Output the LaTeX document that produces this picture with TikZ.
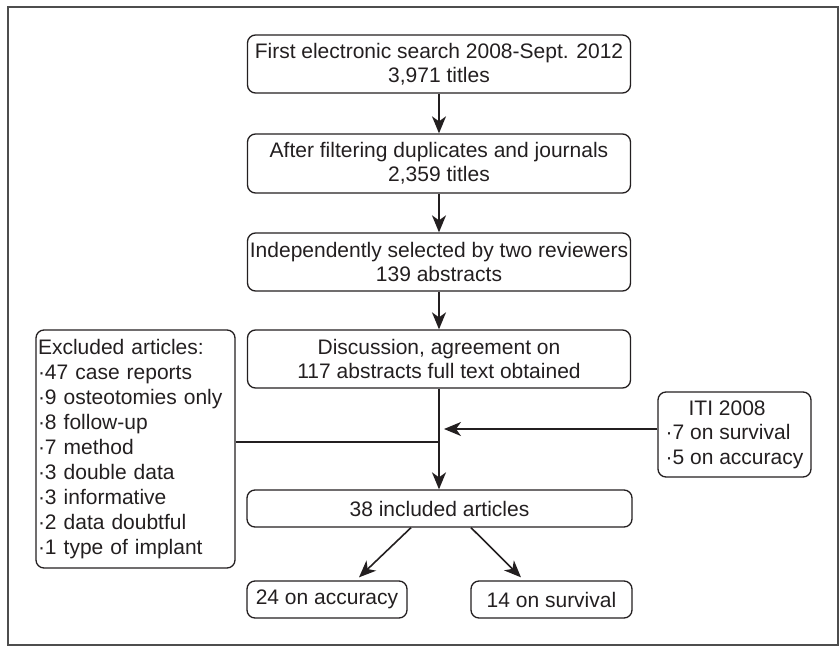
\documentclass[tikz,border=0pt]{standalone}
\usepackage{fontspec}
\setmainfont{Liberation Sans}
\usetikzlibrary{arrows.meta,calc}
\definecolor{ink}{HTML}{231F20}
\definecolor{framec}{HTML}{4D4D4D}
\newcommand\diafont{\fontsize{21}{24}\selectfont}
\newcommand\listfont{\fontsize{21}{25}\selectfont}
\begin{document}
\begin{tikzpicture}[x=1pt,y=-1pt,
  box/.style={draw=ink, text=ink, line width=1.3pt, rounded corners=8pt, inner sep=0pt, align=center, font=\diafont},
  listbox/.style={box, align=left, font=\listfont},
  arr/.style={draw=ink, line width=1.6pt, -{Stealth[length=17pt,width=14pt,inset=5pt]}},
  ln/.style={draw=ink, line width=1.3pt},
  framebox/.style={draw=framec, line width=1.5pt}]
\useasboundingbox (0,0) rectangle (839,646);
\draw[framebox] (8,7) rectangle (838,645);

\node[box, minimum width=383pt, minimum height=58pt] (b1) at (439,64) {First electronic search 2008-Sept. 2012\\3,971 titles};
\node[box, minimum width=383pt, minimum height=59pt] (b2) at (439,163.5) {After filtering duplicates and journals\\2,359 titles};
\node[box, minimum width=383pt, minimum height=58pt] (b3) at (439,262) {Independently selected by two reviewers\\139 abstracts};
\node[box, minimum width=383pt, minimum height=58pt] (b4) at (439,359) {Discussion, agreement on\\117 abstracts full text obtained};
\node[box, minimum width=385pt, minimum height=37pt] (b5) at (439.5,508.5) {38 included articles};
\node[box, minimum width=160pt, minimum height=37pt] (acc) at (327,599.5) {24 on accuracy};
\node[box, minimum width=161pt, minimum height=37pt] (surv) at (551.5,599.5) {14 on survival};

\node[listbox, text width=195pt, inner xsep=2pt, minimum height=238pt] (excl) at (135.5,449)
  {Excluded articles:\\·47 case reports\\·9 osteotomies only\\·8 follow-up\\·7 method\\·3 double data\\·3 informative\\·2 data doubtful\\·1 type of implant};
\node[listbox, font=\fontsize{21}{24.5}\selectfont, minimum width=153pt, minimum height=85pt] (iti) at (734.5,434.5)
  {\hspace*{23pt}ITI 2008\\·7 on survival\\·5 on accuracy};

\draw[arr] (b1) -- (b2);
\draw[arr] (b2) -- (b3);
\draw[arr] (b3) -- (b4);
\draw[arr] (b4.south) -- (b4.south |- b5.north);

\coordinate (j) at (439,442);
\draw[ln] (excl.east |- j) -- (j);
\coordinate (t) at (444,429);
\draw[arr] (iti.west |- t) -- (t);

\draw[arr] ($(b5.south)+(-28.5,0)$) -- ($(acc.north)+(32,-3)$);
\draw[arr] ($(b5.south)+(31.5,0)$) -- ($(surv.north)+(-30.5,-3)$);
\end{tikzpicture}
\end{document}
